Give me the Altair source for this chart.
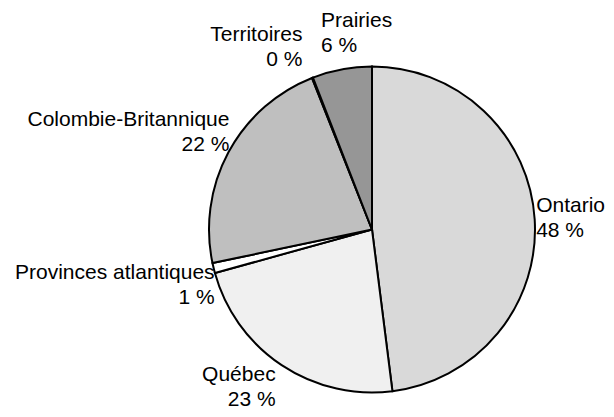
import math
import altair as alt
import pandas as pd

regions = ["Ontario", "Québec", "Provinces atlantiques", "Colombie-Britannique", "Territoires", "Prairies"]
shares = [48.0, 22.7, 1.0, 22.3, 0.1, 5.9]
pct_labels = ["48 %", "23 %", "1 %", "22 %", "0 %", "6 %"]
colors = ["#d9d9d9", "#f0f0f0", "#ffffff", "#bfbfbf", "#a6a6a6", "#969696"]

df = pd.DataFrame({
    "region": regions,
    "share": shares,
    "pct": pct_labels,
    "order": list(range(len(regions))),
})
df["label"] = df["region"] + "\n" + df["pct"]

R = 163
FONT = "Liberation Sans"

base = alt.Chart(df).transform_joinaggregate(
    total="sum(share)"
).transform_window(
    cum="sum(share)", sort=[alt.SortField("order")], frame=[None, 0]
).transform_calculate(
    t0="(datum.cum - datum.share) / datum.total * 2 * PI",
    t1="datum.cum / datum.total * 2 * PI",
    tm="(datum.cum - datum.share / 2) / datum.total * 2 * PI",
)

pie = base.mark_arc(outerRadius=R, stroke="black", strokeWidth=2).encode(
    theta=alt.Theta("t0:Q", scale=None),
    theta2="t1:Q",
    color=alt.Color("region:N", scale=alt.Scale(domain=regions, range=colors), legend=None),
)

# per-label placement (alignment and offset from the slice's mid-angle on the rim)
placements = {
    "Ontario": dict(align="left", dx=1.5, dy=-7),
    "Québec": dict(align="right", dx=-6, dy=16),
    "Provinces atlantiques": dict(align="right", dx=1, dy=11),
    "Colombie-Britannique": dict(align="right", dx=1, dy=-26),
    "Territoires": dict(align="right", dx=-10, dy=-37),
    "Prairies": dict(align="left", dx=-21, dy=-42),
}

layers = [pie]
for name in regions:
    p = placements[name]
    layers.append(
        base.transform_filter(alt.datum.region == name).mark_text(
            radius=R, font=FONT, fontSize=21, lineBreak="\n", lineHeight=25,
            baseline="alphabetic", color="black", **p
        ).encode(
            theta=alt.Theta("tm:Q", scale=None),
            text="label:N",
        )
    )

chart = alt.layer(*layers).properties(
    width=468, height=359,
    padding={"left": 130, "top": 42, "right": 0, "bottom": 0},
    autosize=alt.AutoSizeParams(type="none"),
    background="white",
).configure_view(stroke=None)

chart.save("out.html", embed_options={"renderer": "svg", "actions": False})
